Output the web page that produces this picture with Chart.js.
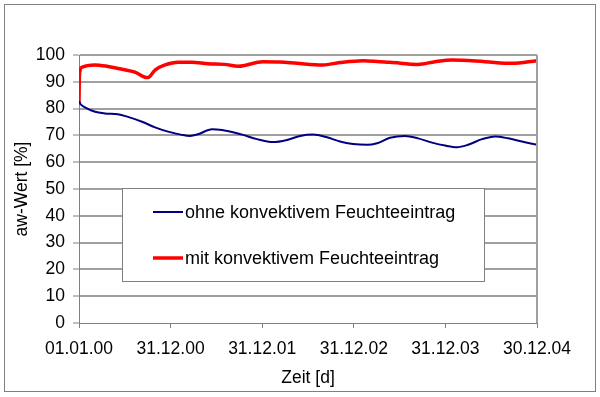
<!DOCTYPE html>
<html>
<head>
  <meta charset="UTF-8">
  <script src="https://cdn.jsdelivr.net/npm/chart.js"></script>
  <title>aw-Wert</title>
  <style>
    body { margin: 0; background: #fff; }
    canvas { display: block; }
  </style>
</head>
<body>
  <canvas id="awChart" width="600" height="397"></canvas>
  <script>
    // Zeitachse in Tagen ab 01.01.00
    const xTickLabels = ['01.01.00', '31.12.00', '31.12.01', '31.12.02', '31.12.03', '30.12.04'];
    const seriesNames = ['ohne konvektivem Feuchteeintrag', 'mit konvektivem Feuchteeintrag'];

    const ohneDays = [0, 8, 24, 64, 104, 155, 195, 251, 303, 355, 410, 442, 474, 530, 570, 622, 654, 709, 773, 829, 881, 933, 988, 1040, 1092, 1148, 1188, 1239, 1299, 1351, 1407, 1459, 1506, 1550, 1606, 1658, 1710, 1765, 1825];
    const ohneValues = [82.7, 81.5, 80.5, 78.8, 78.2, 77.9, 76.9, 75.1, 73.0, 71.4, 70.2, 69.8, 70.4, 72.3, 72.0, 71.0, 70.2, 68.6, 67.5, 68.3, 69.8, 70.3, 69.3, 67.7, 66.8, 66.5, 67.1, 69.1, 69.8, 68.9, 67.3, 66.2, 65.6, 66.5, 68.6, 69.6, 68.9, 67.7, 66.5];

    const mitDays = [0, 1, 4, 12, 64, 116, 171, 223, 263, 275, 303, 343, 395, 450, 514, 580, 634, 733, 801, 869, 972, 1040, 1132, 1199, 1239, 1351, 1419, 1486, 1618, 1725, 1825];
    const mitValues = [81.5, 90, 94.2, 95.4, 96.3, 95.7, 94.7, 93.6, 91.7, 91.6, 94.4, 96.3, 97.3, 97.3, 96.7, 96.5, 95.8, 97.5, 97.4, 96.9, 96.3, 97.2, 97.9, 97.5, 97.3, 96.5, 97.5, 98.1, 97.5, 96.9, 97.9];

    const FONT = "'Liberation Sans', Arial, sans-serif";
    Chart.defaults.font.family = FONT;
    Chart.defaults.color = '#000';

    function toPoints(xs, ys) {
      return xs.map((d, i) => ({ x: d, y: ys[i] }));
    }

    // Rahmen, rechte Plotkante und Legende wie im Excel-Diagramm
    const excelFrame = {
      id: 'excelFrame',
      beforeDraw(chart) {
        const ctx = chart.ctx;
        ctx.save();
        ctx.fillStyle = '#fff';
        ctx.fillRect(0, 0, chart.width, chart.height);
        ctx.restore();
      },
      afterDraw(chart) {
        const ctx = chart.ctx;
        const a = chart.chartArea;
        ctx.save();
        ctx.strokeStyle = '#a0a0a0';
        ctx.lineWidth = 2;
        ctx.beginPath();
        ctx.moveTo(a.right, a.top);
        ctx.lineTo(a.right, a.bottom);
        ctx.stroke();

        ctx.strokeStyle = '#808080';
        ctx.lineWidth = 1;
        ctx.strokeRect(4.5, 4.5, 591, 387);

        // Legende
        ctx.fillStyle = '#fff';
        ctx.fillRect(122, 188, 362, 93);
        ctx.strokeRect(122.5, 188.5, 362, 93);
        const rows = [212, 258];
        chart.data.datasets.forEach((ds, i) => {
          ctx.strokeStyle = ds.borderColor;
          ctx.lineWidth = ds.borderWidth;
          ctx.beginPath();
          ctx.moveTo(153, rows[i]);
          ctx.lineTo(183, rows[i]);
          ctx.stroke();
          ctx.fillStyle = '#000';
          ctx.font = '18px ' + FONT;
          ctx.textBaseline = 'middle';
          ctx.fillText(ds.label, 185, rows[i] + 1);
        });
        ctx.restore();
      }
    };

    var ctx = document.getElementById('awChart').getContext('2d');
    var chart = new Chart(ctx, {
      type: 'line',
      data: {
        datasets: [{
          label: seriesNames[0],
          data: toPoints(ohneDays, ohneValues),
          borderColor: '#000080',
          borderWidth: 2,
          pointRadius: 0,
          cubicInterpolationMode: 'monotone',
          fill: false
        }, {
          label: seriesNames[1],
          data: toPoints(mitDays, mitValues),
          borderColor: '#ff0000',
          borderWidth: 3.5,
          pointRadius: 0,
          cubicInterpolationMode: 'monotone',
          fill: false
        }]
      },
      options: {
        responsive: false,
        animation: false,
        layout: { padding: { top: 55, right: 63, left: 0, bottom: 0 } },
        plugins: {
          legend: { display: false },
          tooltip: { enabled: false }
        },
        scales: {
          x: {
            type: 'linear',
            min: 0,
            max: 1825,
            afterFit(scale) { scale.height = 74; },
            ticks: {
              stepSize: 365,
              padding: 11,
              maxRotation: 0,
              font: { size: 17.5 },
              callback: (v) => xTickLabels[Math.round(v / 365)]
            },
            grid: {
              drawOnChartArea: false,
              drawTicks: true,
              tickLength: 5,
              tickColor: '#808080',
              tickWidth: 1
            },
            border: { color: '#808080', width: 1 },
            title: {
              display: true,
              text: 'Zeit [d]',
              font: { size: 17.5 },
              padding: { top: 0, bottom: 8.5 }
            }
          },
          y: {
            min: 0,
            max: 100,
            afterFit(scale) { scale.width = 79; },
            ticks: {
              stepSize: 10,
              padding: 8,
              font: { size: 17.5 }
            },
            grid: {
              color: (c) => (c.tick && c.tick.value === 0) ? 'rgba(0,0,0,0)' : '#a0a0a0',
              lineWidth: 2,
              tickLength: 6,
              tickColor: '#808080',
              tickWidth: 1
            },
            border: { color: '#808080', width: 1 },
            title: {
              display: true,
              text: 'aw-Wert [%]',
              font: { size: 17.5 },
              padding: { top: 11.5, bottom: 0 }
            }
          }
        }
      },
      plugins: [excelFrame]
    });
  </script>
</body>
</html>
